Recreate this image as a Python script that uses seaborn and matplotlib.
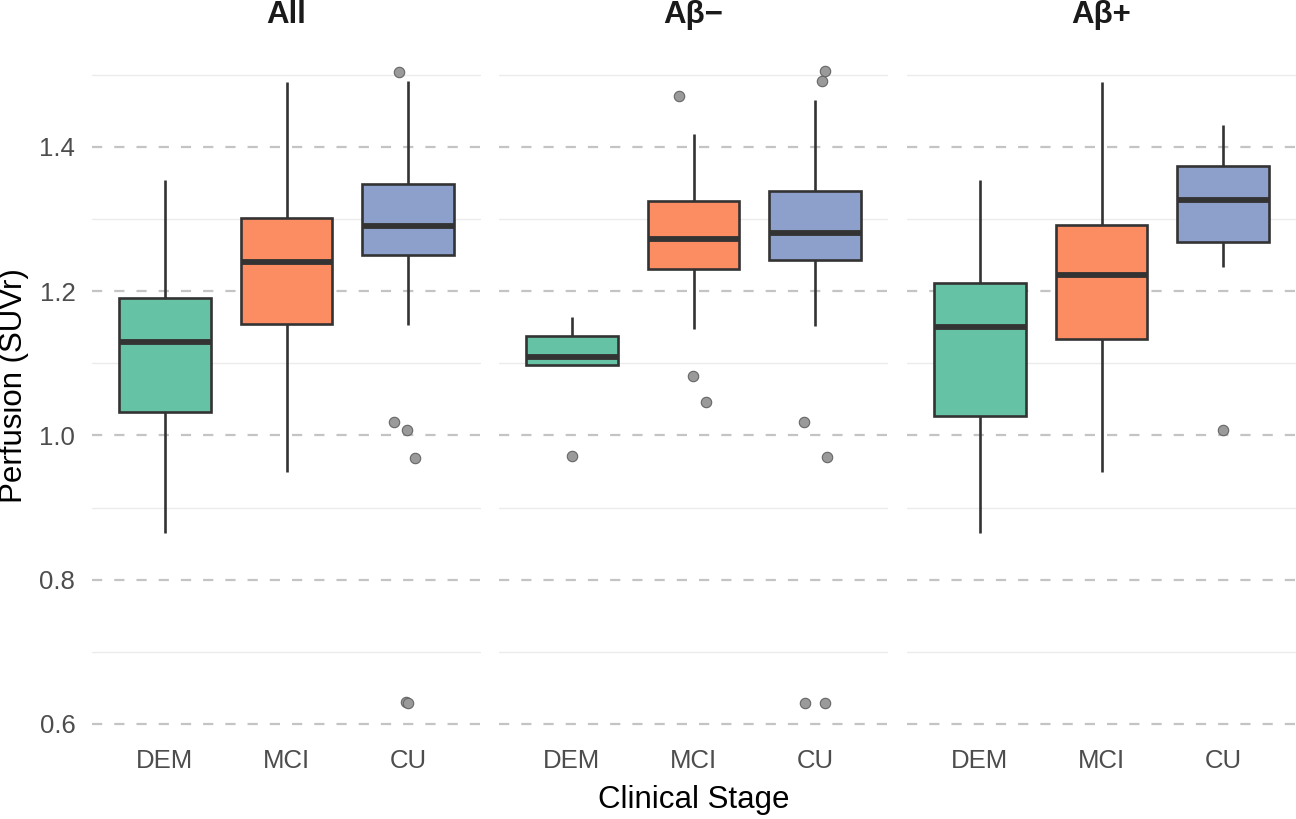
import numpy as np
import pandas as pd
import matplotlib
matplotlib.use("Agg")
import matplotlib.pyplot as plt
import seaborn as sns

# ---------------- data ----------------
panels = ["All", "Aβ−", "Aβ+"]
stages = ["DEM", "MCI", "CU"]

# five-number summaries: lower whisker, Q1, median, Q3, upper whisker
all_dem = [0.865, 1.033, 1.129, 1.190, 1.354]
all_mci = [0.949, 1.155, 1.240, 1.302, 1.490]
all_cu = [1.153, 1.250, 1.291, 1.349, 1.491]
neg_dem = [1.097, 1.097, 1.109, 1.138, 1.164]
neg_mci = [1.148, 1.231, 1.273, 1.325, 1.418]
neg_cu = [1.152, 1.243, 1.281, 1.339, 1.465]
pos_dem = [0.865, 1.027, 1.150, 1.211, 1.354]
pos_mci = [0.949, 1.134, 1.222, 1.292, 1.490]
pos_cu = [1.234, 1.268, 1.326, 1.374, 1.430]

# outliers
all_cu_out = [1.504, 1.018, 1.008, 0.968, 0.631, 0.629]
neg_dem_out = [0.972]
neg_mci_out = [1.471, 1.082, 1.047]
neg_cu_out = [1.505, 1.491, 1.018, 0.970, 0.629, 0.629]
pos_cu_out = [1.008]

y_major = [0.6, 0.8, 1.0, 1.2, 1.4]
y_minor = [0.7, 0.9, 1.1, 1.3, 1.5]

summaries = {
    "All": {"DEM": all_dem, "MCI": all_mci, "CU": all_cu},
    "Aβ−": {"DEM": neg_dem, "MCI": neg_mci, "CU": neg_cu},
    "Aβ+": {"DEM": pos_dem, "MCI": pos_mci, "CU": pos_cu},
}
outliers = {
    "All": {"CU": all_cu_out},
    "Aβ−": {"DEM": neg_dem_out, "MCI": neg_mci_out, "CU": neg_cu_out},
    "Aβ+": {"CU": pos_cu_out},
}

box_rows = [(p, s, v) for p in panels for s in stages for v in summaries[p][s]]
box_df = pd.DataFrame(box_rows, columns=["panel", "stage", "value"])
out_rows = [(p, s, v) for p in panels for s, vals in outliers[p].items() for v in vals]
out_df = pd.DataFrame(out_rows, columns=["panel", "stage", "value"])

palette = {"DEM": "#66C2A5", "MCI": "#FC8D62", "CU": "#8DA0CB"}

# ---------------- style ----------------
sns.set_theme(style="white")
plt.rcParams["font.family"] = ["Liberation Sans", "DejaVu Sans"]

fig = plt.figure(figsize=(12.96, 8.19), dpi=100)
W, H = 1296, 819
left_px = [92, 499, 907]
width_px = 389
top_px, bot_px = 38, 734

np.random.seed(11)
axes = []
for i, p in enumerate(panels):
    ax = fig.add_axes([left_px[i] / W, 1 - bot_px / H, width_px / W, (bot_px - top_px) / H])
    axes.append(ax)
    sub = box_df[box_df.panel == p]
    sns.boxplot(
        data=sub, x="stage", y="value", hue="stage", order=stages, hue_order=stages,
        palette=palette, saturation=1, width=0.75, whis=(0, 100), showfliers=False,
        showcaps=False, linecolor="#333333", linewidth=1.9, legend=False, ax=ax,
        medianprops={"linewidth": 4.2, "color": "#333333", "solid_capstyle": "butt"},
    )
    osub = out_df[out_df.panel == p]
    sns.stripplot(
        data=osub, x="stage", y="value", order=stages, jitter=0.12,
        color="#9a9a9a", edgecolor="#666666", linewidth=0.8, size=7.5, ax=ax, zorder=5,
    )
    ax.set_xlim(-0.6, 2.6)
    ax.set_ylim(0.586, 1.551)
    ax.set_yticks(y_major)
    ax.set_yticks(y_minor, minor=True)
    ax.grid(False)
    ax.grid(which="major", axis="y", color="#c4c4c4", linewidth=1.6, linestyle=(0, (4.6, 5.4)))
    ax.grid(which="minor", axis="y", color="#ebebeb", linewidth=1.0, linestyle="-")
    ax.set_axisbelow(True)
    for s in ax.spines.values():
        s.set_visible(False)
    ax.tick_params(axis="both", which="both", length=0)
    ax.tick_params(axis="x", labelsize=18.5, labelcolor="#4d4d4d", pad=11)
    ax.tick_params(axis="y", labelsize=18.5, labelcolor="#4d4d4d", pad=12)
    ax.set_xlabel("")
    ax.set_ylabel("")
    if i == 0:
        ax.set_yticklabels([f"{v:.1f}" for v in y_major])
    else:
        ax.set_yticklabels([])
    cx = (left_px[i] + width_px / 2) / W
    fig.text(cx, 1 - 15 / H, p, ha="center", va="center", fontsize=22.5,
             fontweight="bold", color="#1a1a1a")

fig.text(14 / W, 1 - 386 / H, "Perfusion (SUVr)", rotation=90, ha="center", va="center",
         fontsize=22.5, color="black")
fig.text(0.5 * (left_px[0] + left_px[2] + width_px) / W, 1 - 800 / H, "Clinical Stage",
         ha="center", va="center", fontsize=22.5, color="black")

fig.savefig("out.png", dpi=100, facecolor="white")
